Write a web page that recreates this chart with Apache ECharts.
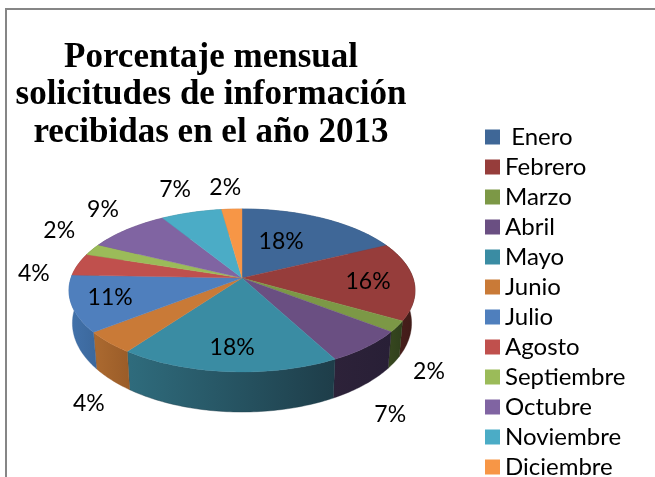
<!DOCTYPE html>
<html><head><meta charset="utf-8">
<style>html,body{margin:0;padding:0;background:#fff;overflow:hidden}#c{width:655px;height:477px}</style>
<script src="https://cdn.jsdelivr.net/npm/echarts@6/dist/echarts.min.js"></script>
</head><body><div id="c"></div>
<script>
const months = ['Enero','Febrero','Marzo','Abril','Mayo','Junio','Julio','Agosto','Septiembre','Octubre','Noviembre','Diciembre'];
const percents = [17.8,15.5,2.2,6.7,17.8,4.4,11.2,4.4,2.3,8.9,6.6,2.2];
const topColors = ['#3f6797','#963d3b','#7c9846','#6a4f82','#3a8ca3','#c97a37','#4f7fbd','#c0504d','#9bbb59','#8064a2','#4bacc6','#f79646'];
const wallLeft = ['#2c4a6e','#4f211e','#37481f','#2d2239','#2f6c7d','#ac6a30','#4272ab','#8c3a38','#728a41','#5e4a77','#37808f','#b56e33'];
const wallRight = ['#2c4a6e','#401b18','#2f3f1c','#281f36','#1e3d49','#9a5c28','#3c689c','#8c3a38','#728a41','#5e4a77','#37808f','#b56e33'];
const labelRadius = [0.544,0.733,1.36,1.525,0.777,1.464,0.781,1.23,1.343,1.356,1.412,1.372];
const labelShift = [-5.2,1.9,13.2,13.4,-0.2,-14.4,0,-7.2,6.8,4.1,0.3,-1];

const titleText = 'Porcentaje mensual\nsolicitudes de información\nrecibidas en el año 2013';
// projection of the tilted disc
const P = {x0:242, y0:278, A:79.6, B:171, k:0.153, depth:31.6, shrinkX:0.98, stretchY:1.09};
function project(deg, r, low) {
  const t = deg*Math.PI/180, u = r*Math.sin(t), v = -r*Math.cos(t), w = 1-P.k*v;
  return [P.x0 + (low?P.shrinkX:1)*P.B*u/w, P.y0 + (low?P.stretchY:1)*P.A*v/w + (low ? P.depth : 0)];
}
const total = percents.reduce((a,b)=>a+b,0);
function startOf(i){ let s=0; for(let j=0;j<i;j++) s+=percents[j]; return s; }

function renderSlice(i){
  return function(params, api){
    const val = api.value(0);
    const a0 = startOf(i)/total*360, a1 = a0 + val/total*360;
    const rim = [], low = [];
    const n = Math.max(2, Math.ceil(a1-a0));
    for(let q=0;q<=n;q++){
      const d = a0+(a1-a0)*q/n;
      rim.push(project(d,1,false));
      low.push(project(d,1,true));
    }
    const wall = rim.concat(low.slice().reverse());
    const face = [[P.x0,P.y0]].concat(rim);
    const grad = new echarts.graphic.LinearGradient(0,0,1,0,[
      {offset:0,color:wallLeft[i]},{offset:1,color:wallRight[i]}]);
    const mid = (a0+a1)/2 + labelShift[i];
    const lp = project(mid,labelRadius[i],false);
    return {type:'group',children:[
      {type:'polygon',z2:1+(a0>90&&a0<270?1:0),shape:{points:wall},style:{fill:grad,stroke:wallRight[i],lineWidth:0.4}},
      {type:'polygon',z2:10,shape:{points:face},style:{fill:topColors[i],stroke:topColors[i],lineWidth:0.4}},
      {type:'text',z2:20,style:{text:Math.round(val)+'%',x:lp[0],y:lp[1],align:'center',verticalAlign:'middle',
        fill:'#000',font:'23px Lato'}}
    ]};
  };
}

const chart = echarts.init(document.getElementById('c'),null,{renderer:'canvas'});
chart.setOption({
  animation:false,
  backgroundColor:'#fff',
  title:{text:titleText,left:206,top:34,textAlign:'center',
    textStyle:{fontFamily:'Liberation Serif',fontWeight:'bold',fontSize:35,lineHeight:37.5,color:'#000'}},
  legend:{orient:'vertical',left:480,top:120,height:600,itemWidth:15,itemHeight:15,itemGap:6,
    data:months.map((m,i)=>({name:m,icon:'rect',itemStyle:{color:topColors[i]}})),
    formatter:n=>n==='Enero'?' '+n:n,
    selectedMode:false,
    textStyle:{fontFamily:'Lato',fontSize:24,color:'#000',lineHeight:20}},
  graphic:[
    {type:'polyline',silent:true,shape:{points:[[6,477],[6,9],[655,9]]},style:{fill:null,stroke:'#868686',lineWidth:2}}
  ],
  series:months.map((m,i)=>({
    type:'custom',name:m,coordinateSystem:'none',silent:true,
    itemStyle:{color:topColors[i]},
    renderItem:renderSlice(i),
    data:[[percents[i]]]
  }))
});
</script></body></html>
